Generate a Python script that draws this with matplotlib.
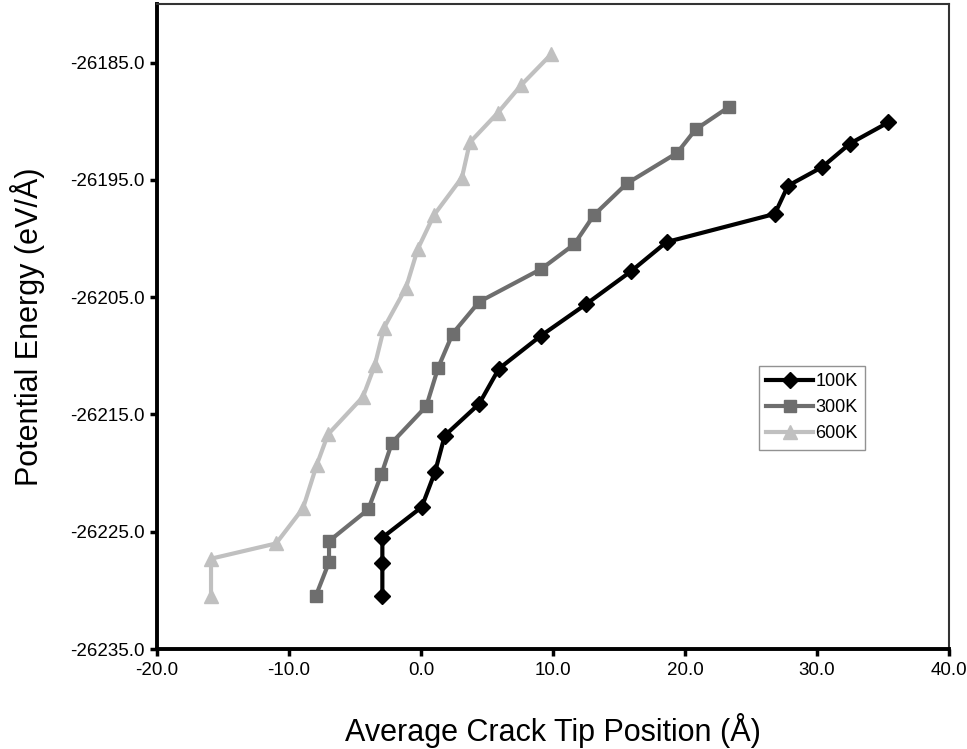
import numpy as np
from matplotlib import pyplot as plt
from matplotlib.ticker import FormatStrFormatter

plt.rcParams['font.family'] = ['Liberation Sans', 'DejaVu Sans']

# crack tip position (A) and potential energy (eV/A) per temperature
x_100 = [-2.93, -2.93, -2.93, 0.05, 1.06, 1.8, 4.4, 5.9, 9.07, 12.5,
         15.9, 18.6, 26.8, 27.8, 30.4, 32.5, 35.4]
e_100 = [-26230.5, -26227.7, -26225.5, -26222.9, -26219.9, -26216.8,
         -26214.1, -26211.1, -26208.3, -26205.6, -26202.8, -26200.3,
         -26197.9, -26195.5, -26193.9, -26191.9, -26190.1]

x_300 = [-7.98, -6.97, -6.97, -4.0, -3.0, -2.2, 0.4, 1.3, 2.4, 4.4,
         9.1, 11.6, 13.1, 15.6, 19.4, 20.8, 23.3]
e_300 = [-26230.5, -26227.6, -26225.8, -26223.1, -26220.1, -26217.4,
         -26214.3, -26211.0, -26208.1, -26205.4, -26202.6, -26200.5,
         -26198.0, -26195.3, -26192.7, -26190.7, -26188.8]

x_600 = [-15.91, -15.91, -10.98, -8.94, -7.9, -7.05, -4.4, -3.5, -2.8,
         -1.14, -0.25, 0.98, 3.1, 3.7, 5.8, 7.6, 9.85]
e_600 = [-26230.5, -26227.3, -26226.0, -26223.0, -26219.3, -26216.7,
         -26213.5, -26210.8, -26207.6, -26204.2, -26200.9, -26198.0,
         -26194.8, -26191.8, -26189.3, -26186.9, -26184.3]

series = [
        ('100K', x_100, e_100, '#000000', 'D', 8.5),
        ('300K', x_300, e_300, '#6e6e6e', 's', 9),
        ('600K', x_600, e_600, '#c0c0c0', '^', 10),
        ]

fig = plt.figure(figsize=(9.67, 7.49), dpi=100)
ax = fig.add_axes([0.1624, 0.1335, 0.819, 0.8612])

for label, xs, es, c, m, ms in series:
    ax.plot(xs, es, color=c, lw=3, marker=m, ms=ms, mec=c, mfc=c, label=label)

ax.set_xlim(-20, 40)
ax.set_ylim(-26235, -26180)
ax.set_xticks(np.arange(-20, 41, 10))
ax.set_yticks(np.arange(-26235, -26184, 10))
ax.xaxis.set_major_formatter(FormatStrFormatter('%.1f'))
ax.yaxis.set_major_formatter(FormatStrFormatter('%.1f'))
ax.tick_params(labelsize=13.5, length=5, width=2.5, direction='out', pad=4)

for side in ['left', 'bottom']:
    ax.spines[side].set_linewidth(2.8)
for side in ['top', 'right']:
    ax.spines[side].set_linewidth(1.5)
    ax.spines[side].set_color('#333333')

ax.set_xlabel('Average Crack Tip Position (Å)', fontsize=22, labelpad=25)
ax.set_ylabel('Potential Energy (eV/Å)', fontsize=22, labelpad=18)

leg = ax.legend(loc='center', bbox_to_anchor=(0.827, 0.374), fontsize=13,
                frameon=True, fancybox=False, handlelength=2.6,
                handletextpad=0.1, borderpad=0.4, labelspacing=0.5)
leg.get_frame().set_edgecolor('#777777')
leg.get_frame().set_linewidth(1.0)

fig.savefig('out.png', dpi=100)
